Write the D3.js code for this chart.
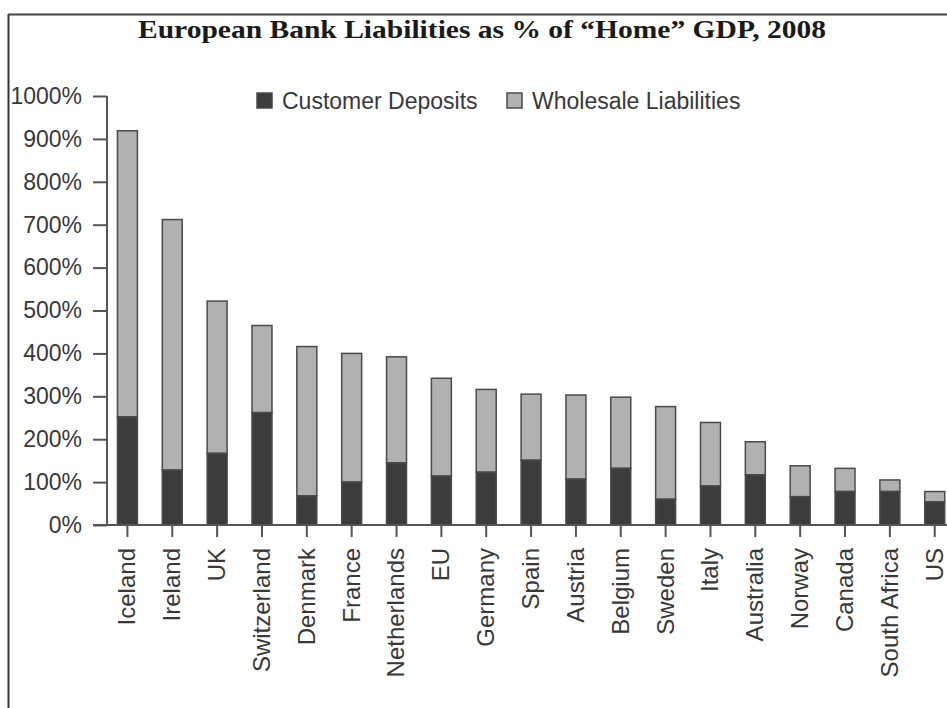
<!DOCTYPE html>
<html>
<head>
<meta charset="utf-8">
<script src="https://cdn.jsdelivr.net/npm/d3@7"></script>
<style>
  body { margin: 0; background: #fff; }
  svg { display: block; }
</style>
</head>
<body>
<svg id="chart"></svg>
<script>
const countries = ['Iceland', 'Ireland', 'UK', 'Switzerland', 'Denmark', 'France', 'Netherlands', 'EU',
	'Germany', 'Spain', 'Austria', 'Belgium', 'Sweden', 'Italy', 'Australia', 'Norway', 'Canada',
	'South Africa', 'US'];
// totals = deposits + wholesale, in % of home GDP
const deposits = [252, 128, 167, 262, 68, 100, 145, 114, 123, 151, 107, 132, 60, 91, 117, 66, 78, 78, 54];
const totals = [919, 712, 522, 465, 416, 400, 392, 342, 316, 305, 303, 298, 276, 239, 194, 138, 132, 105, 78];
const yTicks = [0, 100, 200, 300, 400, 500, 600, 700, 800, 900, 1000];
const seriesNames = ['Customer Deposits', 'Wholesale Liabilities'];
const title = 'European Bank Liabilities as % of \u201cHome\u201d GDP, 2008';

const W = 947, H = 708;
const colors = { dep: '#3c3c3c', whole: '#b1b1b1', stroke: '#4a4a4a', text: '#383838' };
const font = '"Liberation Sans", Arial, sans-serif';

const svg = d3.select('#chart').attr('width', W).attr('height', H);

// frame (left + top edges only, the rest is cropped)
svg.append('line').attr('x1', 8.5).attr('y1', 14).attr('x2', 8.5).attr('y2', H)
	.attr('stroke', '#333').attr('stroke-width', 2);
svg.append('line').attr('x1', 8).attr('y1', 14.5).attr('x2', W).attr('y2', 14.5)
	.attr('stroke', '#444').attr('stroke-width', 2);

svg.append('text')
	.attr('x', 482).attr('y', 38)
	.attr('text-anchor', 'middle')
	.attr('font-family', '"Liberation Serif", "DejaVu Serif", serif')
	.attr('font-weight', 'bold')
	.attr('font-size', 25)
	.attr('fill', '#1a1a1a')
	.attr('textLength', 688)
	.attr('lengthAdjust', 'spacingAndGlyphs')
	.text(title);

const x = d3.scaleBand()
	.domain(countries)
	.range([105, 105 + 19 * 44.85])
	.paddingInner(0.555)
	.paddingOuter(0.2775);
const y = d3.scaleLinear().domain([0, 1000]).range([525, 96]);

const data = countries.map((c, i) => ({ c, dep: deposits[i], total: totals[i] }));

// y axis
const yAxis = svg.append('g')
	.attr('transform', 'translate(107,0)')
	.call(d3.axisLeft(y).tickValues(yTicks).tickSize(14).tickPadding(11).tickFormat(d => d + '%'));
yAxis.select('.domain').remove();
yAxis.append('line').attr('x1', 0).attr('x2', 0).attr('y1', y(1000)).attr('y2', y(0))
	.attr('stroke', '#555').attr('stroke-width', 2);
yAxis.selectAll('.tick line').attr('stroke', '#555').attr('stroke-width', 2);
yAxis.selectAll('.tick text').attr('font-family', font).attr('font-size', 23).attr('fill', colors.text);

// bars
const bars = svg.append('g');
bars.selectAll('rect.whole').data(data).join('rect')
	.attr('class', 'whole')
	.attr('x', d => x(d.c)).attr('width', x.bandwidth())
	.attr('y', d => y(d.total)).attr('height', d => y(d.dep) - y(d.total))
	.attr('fill', colors.whole).attr('stroke', colors.stroke).attr('stroke-width', 1.5);
bars.selectAll('rect.dep').data(data).join('rect')
	.attr('class', 'dep')
	.attr('x', d => x(d.c)).attr('width', x.bandwidth())
	.attr('y', d => y(d.dep)).attr('height', d => y(0) - y(d.dep))
	.attr('fill', colors.dep).attr('stroke', colors.stroke).attr('stroke-width', 1.5);

// x axis
const xAxis = svg.append('g')
	.attr('transform', 'translate(0,525)')
	.call(d3.axisBottom(x).tickSize(12).tickPadding(11).tickSizeOuter(0));
xAxis.select('.domain').remove();
xAxis.append('line').attr('x1', 93).attr('x2', W).attr('y1', 0).attr('y2', 0)
	.attr('stroke', '#555').attr('stroke-width', 2);
xAxis.selectAll('.tick line').attr('stroke', '#555').attr('stroke-width', 2);
xAxis.selectAll('.tick text')
	.attr('font-family', font).attr('font-size', 24).attr('fill', colors.text)
	.attr('text-anchor', 'end')
	.attr('transform', 'rotate(-90)')
	.attr('x', -23).attr('y', 0).attr('dy', '0.33em');

// legend
const legend = svg.append('g').attr('transform', 'translate(257,93)');
const legendX = [0, 250];
const legendFill = [colors.dep, colors.whole];
seriesNames.forEach((name, i) => {
	const g = legend.append('g').attr('transform', `translate(${legendX[i]},0)`);
	g.append('rect').attr('width', 15).attr('height', 15)
		.attr('fill', legendFill[i]).attr('stroke', colors.stroke).attr('stroke-width', 1.5);
	g.append('text').attr('x', 25).attr('y', 15.5)
		.attr('font-family', font).attr('font-size', 23).attr('fill', colors.text)
		.text(name);
});
</script>
</body>
</html>
